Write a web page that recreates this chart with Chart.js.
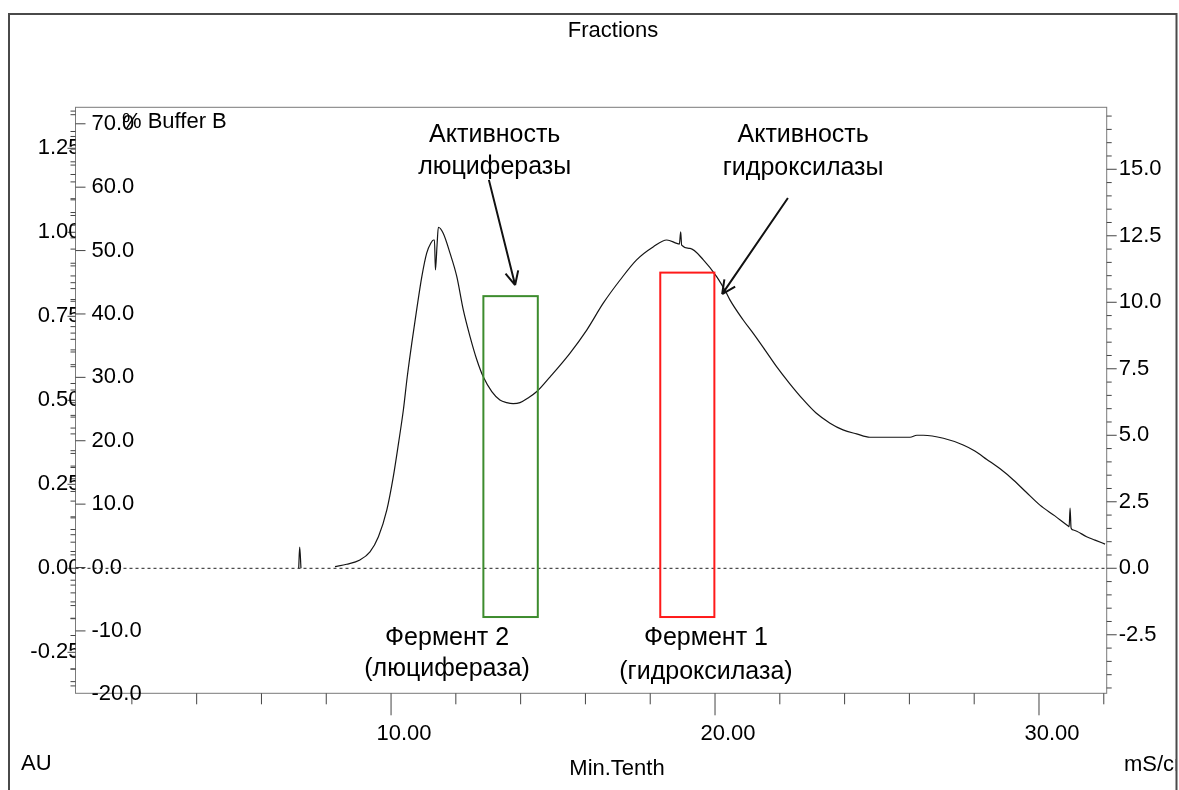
<!DOCTYPE html>
<html>
<head>
<meta charset="utf-8">
<title>Fractions</title>
<script src="https://cdn.jsdelivr.net/npm/chart.js@4.4.1/dist/chart.umd.min.js"></script>
<style>
  html, body { margin: 0; padding: 0; background: #fff; }
  #wrap { position: relative; width: 1179px; height: 790px; }
</style>
</head>
<body>
<div id="wrap"><canvas id="chromatogram"></canvas></div>
<script>
// UV trace: time (Min.Tenth) and absorbance (AU)
const timeMin = [7.15, 7.18, 7.22, 7.5, 8.27, 8.63, 9.04, 9.35, 9.61, 9.87, 10.07, 10.23, 10.38, 10.50, 10.64, 10.79, 10.95,
  11.10, 11.23, 11.31, 11.34, 11.37, 11.42, 11.46, 11.61, 11.82, 12.03, 12.23, 12.44, 12.65, 12.85, 13.11, 13.36, 13.57,
  13.77, 13.98, 14.23, 14.50, 14.91, 15.52, 16.04, 16.55, 17.07, 17.58, 18.10, 18.51, 18.82, 18.90, 18.94, 18.97, 19.23,
  19.64, 20.05, 20.36, 20.46, 20.87, 21.18, 21.54, 21.90, 22.31, 22.73, 23.12, 23.55, 23.95, 24.37, 24.78, 25.40, 26.02,
  26.23, 26.43, 27.05, 27.66, 28.02, 28.39, 28.80, 29.21, 29.60, 30.03, 30.49, 30.90, 30.93, 30.96, 30.99, 31.06, 31.47,
  31.73, 32.04];
const absorbanceAU = [0.000, 0.063, 0.000, null, 0.005, 0.012, 0.025, 0.049, 0.094, 0.174, 0.273, 0.372, 0.471, 0.570, 0.670, 0.769, 0.868,
  0.938, 0.968, 0.977, 0.977, 0.888, 0.962, 1.015, 0.997, 0.938, 0.868, 0.769, 0.689, 0.620, 0.569, 0.526, 0.501, 0.493,
  0.490, 0.493, 0.507, 0.526, 0.570, 0.640, 0.709, 0.789, 0.858, 0.918, 0.957, 0.977, 0.967, 0.965, 1.001, 0.962, 0.952,
  0.918, 0.868, 0.818, 0.799, 0.739, 0.699, 0.650, 0.600, 0.549, 0.501, 0.462, 0.432, 0.412, 0.400, 0.390, 0.390, 0.390,
  0.396, 0.396, 0.387, 0.367, 0.349, 0.324, 0.296, 0.263, 0.227, 0.188, 0.156, 0.126, 0.124, 0.179, 0.120, 0.114, 0.094,
  0.084, 0.072];

// tick labels of the four axes
const timeTicks = [10, 20, 30];
const auTicks = [-0.25, 0, 0.25, 0.5, 0.75, 1.0, 1.25];
const bufferBTicks = [-20, -10, 0, 10, 20, 30, 40, 50, 60, 70];
const condTicks = [-2.5, 0, 2.5, 5, 7.5, 10, 12.5, 15];

// collected fractions (Фермент 2 / Фермент 1): time range and AU extent
const boxNames = ["Фермент 2", "Фермент 1"];
const boxStart = [12.85, 18.31];
const boxEnd = [14.53, 19.98];
const boxTop = [0.81, 0.88];
const boxBottom = [-0.145, -0.145];

const FONT = '"Liberation Sans", Arial, sans-serif';
Chart.defaults.font.family = FONT;
Chart.defaults.font.size = 22;
Chart.defaults.color = "#000";

const points = timeMin.map((t, i) => ({ x: t, y: absorbanceAU[i] }));

function fixTicks(list) {
    return function (scale) {
        scale.ticks = list.map(v => ({ value: v }));
    };
}

// frame, tick marks, zero line, fraction boxes, arrows and texts
const decorPlugin = {
    id: "decor",
    beforeDraw(chart) {
        const { ctx, chartArea: a, scales } = chart;
        const x = scales.x, au = scales.yAU, b = scales.yB, c = scales.yC;
        ctx.save();

        // outer border
        ctx.strokeStyle = "#4a4a4a";
        ctx.lineWidth = 2;
        ctx.beginPath();
        ctx.moveTo(9, 800); ctx.lineTo(9, 14); ctx.lineTo(1176.5, 14); ctx.lineTo(1176.5, 800);
        ctx.stroke();

        // plot frame
        ctx.strokeStyle = "#7a7a7a";
        ctx.lineWidth = 1;
        ctx.strokeRect(a.left, a.top, a.right - a.left, a.bottom - a.top);

        // tick marks
        ctx.strokeStyle = "#444";
        ctx.beginPath();
        for (let i = 1; i <= 16; i++) {
            const px = x.getPixelForValue(i * 2);
            const len = (i % 5 === 0) ? 22 : 11;
            ctx.moveTo(px, a.bottom); ctx.lineTo(px, a.bottom + len);
        }
        for (let i = -7; i <= 27; i++) {
            const py = au.getPixelForValue(i * 0.05);
            const len = (i % 5 === 0) ? 8 : 5;
            ctx.moveTo(a.left, py); ctx.lineTo(a.left - len, py);
        }
        for (let i = -9; i <= 36; i++) {
            const py = b.getPixelForValue(i * 2);
            if (i % 5 === 0) {
                ctx.moveTo(a.left, py); ctx.lineTo(a.left + 10, py);
            } else {
                ctx.moveTo(a.left, py); ctx.lineTo(a.left - 5, py);
            }
        }
        for (let i = -9; i <= 34; i++) {
            const py = c.getPixelForValue(i * 0.5);
            const len = (i % 5 === 0) ? 10 : 5;
            ctx.moveTo(a.right, py); ctx.lineTo(a.right + len, py);
        }
        ctx.stroke();
        ctx.restore();
    },
    beforeDatasetsDraw(chart) {
        const { ctx, chartArea: a, scales } = chart;
        const y0 = scales.yAU.getPixelForValue(0);
        ctx.save();
        ctx.strokeStyle = "#222";
        ctx.lineWidth = 1;
        ctx.setLineDash([3, 3]);
        ctx.beginPath();
        ctx.moveTo(a.left, y0); ctx.lineTo(a.right, y0);
        ctx.stroke();
        ctx.restore();
    },
    afterDatasetsDraw(chart) {
        const { ctx, scales } = chart;
        const x = scales.x, au = scales.yAU;
        ctx.save();

        // fraction boxes
        const boxColors = ["#3d8c2e", "#ff1a1a"];
        ctx.lineWidth = 2;
        boxNames.forEach((n, i) => {
            const l = x.getPixelForValue(boxStart[i]), r = x.getPixelForValue(boxEnd[i]);
            const t = au.getPixelForValue(boxTop[i]), btm = au.getPixelForValue(boxBottom[i]);
            ctx.strokeStyle = boxColors[i];
            ctx.strokeRect(l, t, r - l, btm - t);
        });

        // arrows towards the activity peaks
        function arrow(x1, y1, x2, y2) {
            const p1 = [x.getPixelForValue(x1), au.getPixelForValue(y1)];
            const p2 = [x.getPixelForValue(x2), au.getPixelForValue(y2)];
            const ang = Math.atan2(p2[1] - p1[1], p2[0] - p1[0]);
            ctx.beginPath();
            ctx.moveTo(p1[0], p1[1]); ctx.lineTo(p2[0], p2[1]);
            [-0.45, 0.45].forEach(d => {
                ctx.moveTo(p2[0], p2[1]);
                ctx.lineTo(p2[0] - 15 * Math.cos(ang + d), p2[1] - 15 * Math.sin(ang + d));
            });
            ctx.stroke();
        }
        ctx.strokeStyle = "#111";
        ctx.lineWidth = 2;
        arrow(13.02, 1.156, 13.83, 0.843);
        arrow(22.25, 1.102, 20.22, 0.816);

        // annotation texts
        ctx.fillStyle = "#000";
        ctx.textAlign = "center";
        ctx.textBaseline = "middle";
        ctx.font = "25px " + FONT;
        const notes = [
            ["Активность", 13.2, 1.289], ["люциферазы", 13.2, 1.194],
            ["Активность", 22.72, 1.289], ["гидроксилазы", 22.72, 1.192],
            [boxNames[0], 11.73, -0.207], ["(люцифераза)", 11.73, -0.300],
            [boxNames[1], 19.72, -0.207], ["(гидроксилаза)", 19.72, -0.309]
        ];
        notes.forEach(n => ctx.fillText(n[0], x.getPixelForValue(n[1]), au.getPixelForValue(n[2])));

        // axis captions
        ctx.font = "22px " + FONT;
        ctx.fillText("Fractions", 613, 31);
        ctx.fillText("Min.Tenth", 617, 769);
        ctx.textAlign = "left";
        ctx.fillText("AU", 21, 764);
        ctx.fillText("% Buffer B", 122, 122);
        ctx.save();
        ctx.beginPath();
        ctx.rect(1100, 740, 75.5, 50);
        ctx.clip();
        ctx.fillText("mS/cm", 1124, 765);
        ctx.restore();
        ctx.restore();
    }
};

const ctx = document.getElementById("chromatogram").getContext("2d");
new Chart(ctx, {
    type: "line",
    data: {
        datasets: [{
            label: "UV",
            data: points,
            yAxisID: "yAU",
            borderColor: "#151515",
            borderWidth: 1.2,
            pointRadius: 0,
            cubicInterpolationMode: "monotone",
            spanGaps: false
        }]
    },
    options: {
        responsive: true,
        maintainAspectRatio: false,
        animation: false,
        layout: { padding: { top: 107.3, left: 0, right: 0, bottom: 0 } },
        plugins: { legend: { display: false }, tooltip: { enabled: false } },
        scales: {
            x: {
                type: "linear",
                position: "bottom",
                min: 0.26,
                max: 32.09,
                grid: { display: false, drawTicks: false },
                border: { display: false },
                afterBuildTicks: fixTicks(timeTicks),
                afterFit: s => { s.height = 96.7; },
                ticks: { padding: 27, labelOffset: 13, maxRotation: 0, autoSkip: false, callback: v => v.toFixed(2) }
            },
            yAU: {
                position: "left",
                weight: 2,
                min: -0.372,
                max: 1.372,
                grid: { display: false, drawTicks: false },
                border: { display: false },
                afterBuildTicks: fixTicks(auTicks),
                afterFit: s => { s.width = 75.5; },
                ticks: { padding: -5, autoSkip: false, callback: v => v.toFixed(2) }
            },
            yB: {
                position: "left",
                weight: 1,
                min: -19.84,
                max: 72.6,
                grid: { display: false, drawTicks: false },
                border: { display: false },
                afterBuildTicks: fixTicks(bufferBTicks),
                afterFit: s => { s.width = 0; },
                ticks: { mirror: true, padding: 16, autoSkip: false, callback: v => v.toFixed(1) }
            },
            yC: {
                position: "right",
                min: -4.70,
                max: 17.33,
                grid: { display: false, drawTicks: false },
                border: { display: false },
                afterBuildTicks: fixTicks(condTicks),
                afterFit: s => { s.width = 72.3; },
                ticks: { padding: 12, autoSkip: false, callback: v => v.toFixed(1) }
            }
        }
    },
    plugins: [decorPlugin]
});
</script>
</body>
</html>
